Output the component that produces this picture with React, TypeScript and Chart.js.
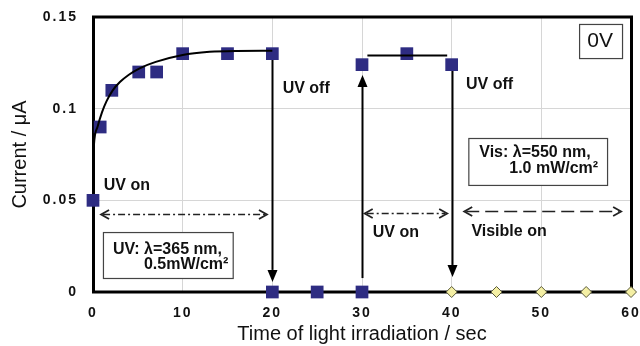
import React, { useEffect, useRef } from 'react';
import { Chart, registerables } from 'chart.js';

Chart.register(...registerables);

// ---- data ----
const uvX = [0, 0.8, 2.1, 5.1, 7.1, 10, 15, 20, 20, 25, 30, 30, 35, 40];
const uvY = [0.05, 0.09, 0.11, 0.12, 0.12, 0.13, 0.13, 0.13, 0, 0, 0, 0.124, 0.13, 0.124];
const visX = [40, 45, 50, 55, 60];
const visY = [0, 0, 0, 0, 0];
const fit1X = [0, 0.1, 0.5, 1, 1.5, 2.2, 3, 4, 5.2, 7, 10, 13, 16, 20];
const fit1Y = [0.066, 0.08, 0.09, 0.098, 0.104, 0.11, 0.1145, 0.1185, 0.122, 0.1255, 0.1293, 0.131, 0.1315, 0.1316];
const fit2X = [30.6, 39.5];
const fit2Y = [0.129, 0.129];
const xTicks = [0, 10, 20, 30, 40, 50, 60];
const yTicks = [0, 0.05, 0.1, 0.15];

// ---- annotations (data coordinates) ----
const vArrows = [
  { x: 20, from: 0.13, to: 0.0055 },
  { x: 30, from: 0.0076, to: 0.1184 },
  { x: 40, from: 0.124, to: 0.0082 },
];
const hArrows = [
  { x1: 0.9, x2: 19.4, y: 0.0425, dash: [7, 3, 2, 3] },
  { x1: 30.3, x2: 39.5, y: 0.043, dash: [7, 3, 2, 3] },
  { x1: 41.4, x2: 58.9, y: 0.044, dash: [13, 6] },
];
const labels = [
  { text: 'UV on', x: 1.2, y: 0.0578 },
  { text: 'UV off', x: 21.15, y: 0.111 },
  { text: 'UV off', x: 41.6, y: 0.1129 },
  { text: 'UV on', x: 31.2, y: 0.0322 },
  { text: 'Visible on', x: 42.2, y: 0.0327 },
];
const boxes = [
  {
    x1: 1.11, x2: 15.58, y1: 0.0327, y2: 0.00764,
    lines: [
      { text: 'UV: λ=365 nm,', x: 2.23, y: 0.0229 },
      { text: '0.5mW/cm²', x: 5.68, y: 0.0147 },
    ],
  },
  {
    x1: 41.86, x2: 57.33, y1: 0.084, y2: 0.0584,
    lines: [
      { text: 'Vis: λ=550 nm,', x: 43.08, y: 0.0758 },
      { text: '1.0 mW/cm²', x: 46.42, y: 0.0671 },
    ],
  },
];
const vBox = { x1: 54.21, x2: 59.0, y1: 0.1462, y2: 0.1276, text: '0V', x: 56.55, y: 0.1369 };

const FONT = '"Liberation Sans", Arial, sans-serif';

const annotPlugin = {
  id: 'annot',
  beforeDatasetsDraw(chart: any) {
    const { ctx, chartArea: a } = chart;
    const xs = chart.scales.x;
    const ys = chart.scales.y;
    const px = (v: number) => xs.getPixelForValue(v);
    const py = (v: number) => ys.getPixelForValue(v);
    ctx.save();
    // frame
    ctx.lineWidth = 3;
    ctx.strokeStyle = '#000';
    ctx.strokeRect(a.left + 0.5, a.top, a.right - a.left, a.bottom - a.top);

    // boxes
    ctx.textBaseline = 'middle';
    ctx.textAlign = 'left';
    ctx.fillStyle = '#111';
    for (const b of boxes) {
      const l = px(b.x1), r = px(b.x2), t = py(b.y1), bt = py(b.y2);
      ctx.fillStyle = '#fff';
      ctx.fillRect(l, t, r - l, bt - t);
      ctx.lineWidth = 1.2;
      ctx.strokeStyle = '#444';
      ctx.strokeRect(l + 0.5, t + 0.5, r - l, bt - t);
      ctx.fillStyle = '#111';
      ctx.font = 'bold 16px ' + FONT;
      for (const ln of b.lines) ctx.fillText(ln.text, px(ln.x), py(ln.y));
    }
    {
      const l = px(vBox.x1), r = px(vBox.x2), t = py(vBox.y1), bt = py(vBox.y2);
      ctx.fillStyle = '#fff';
      ctx.fillRect(l, t, r - l, bt - t);
      ctx.lineWidth = 1.2;
      ctx.strokeStyle = '#444';
      ctx.strokeRect(l + 0.5, t + 0.5, r - l, bt - t);
      ctx.fillStyle = '#111';
      ctx.font = '21px ' + FONT;
      ctx.textAlign = 'center';
      ctx.fillText(vBox.text, px(vBox.x), py(vBox.y));
      ctx.textAlign = 'left';
    }

    // labels
    ctx.font = 'bold 16px ' + FONT;
    ctx.fillStyle = '#111';
    for (const lb of labels) ctx.fillText(lb.text, px(lb.x), py(lb.y));

    // vertical arrows
    ctx.strokeStyle = '#000';
    ctx.fillStyle = '#000';
    for (const va of vArrows) {
      const x = Math.round(px(va.x)) + 0.5;
      const y0 = py(va.from), y1 = py(va.to);
      const dir = y1 > y0 ? 1 : -1;
      const hl = 12, hw = 5;
      ctx.lineWidth = 2;
      ctx.beginPath();
      ctx.moveTo(x, y0);
      ctx.lineTo(x, y1 - dir * hl);
      ctx.stroke();
      ctx.beginPath();
      ctx.moveTo(x, y1);
      ctx.lineTo(x - hw, y1 - dir * hl);
      ctx.lineTo(x + hw, y1 - dir * hl);
      ctx.closePath();
      ctx.fill();
    }

    // horizontal double arrows
    ctx.strokeStyle = '#222';
    for (const ha of hArrows) {
      const x1 = px(ha.x1), x2 = px(ha.x2), y = Math.round(py(ha.y)) + 0.5;
      ctx.lineWidth = 1.5;
      ctx.setLineDash(ha.dash);
      ctx.beginPath();
      ctx.moveTo(x1 + 2, y);
      ctx.lineTo(x2 - 2, y);
      ctx.stroke();
      ctx.setLineDash([]);
      ctx.lineWidth = 1.8;
      ctx.beginPath();
      ctx.moveTo(x1 + 8, y - 4.5);
      ctx.lineTo(x1, y);
      ctx.lineTo(x1 + 8, y + 4.5);
      ctx.moveTo(x2 - 8, y - 4.5);
      ctx.lineTo(x2, y);
      ctx.lineTo(x2 - 8, y + 4.5);
      ctx.stroke();
    }
    ctx.restore();
  },
  afterDatasetsDraw(chart: any) {
    chart.ctx.letterSpacing = '2px';
  },
  afterDraw(chart: any) {
    chart.ctx.letterSpacing = '0px';
  },
};

export default function App() {
  const ref = useRef<HTMLCanvasElement | null>(null);
  useEffect(() => {
    document.body.style.margin = '0';
    const canvas = ref.current;
    if (!canvas) return;
    const toXY = (xs: number[], ys: number[]) => xs.map((x, i) => ({ x, y: ys[i] }));
    const chart = new Chart(canvas, {
      type: 'scatter',
      data: {
        datasets: [
          {
            label: 'fit1',
            data: toXY(fit1X, fit1Y),
            showLine: true,
            borderColor: '#000',
            borderWidth: 2,
            pointRadius: 0,
            cubicInterpolationMode: 'monotone',
            clip: false,
          } as any,
          {
            label: 'fit2',
            data: toXY(fit2X, fit2Y),
            showLine: true,
            borderColor: '#000',
            borderWidth: 2,
            pointRadius: 0,
            clip: false,
          } as any,
          {
            label: 'UV',
            data: toXY(uvX, uvY),
            pointStyle: 'rect',
            pointRadius: 9,
            pointBackgroundColor: '#2e2c82',
            pointBorderColor: '#2e2c82',
            pointBorderWidth: 0,
            clip: false,
          } as any,
          {
            label: 'Vis',
            data: toXY(visX, visY),
            pointStyle: 'rectRot',
            pointRadius: 5.5,
            pointBackgroundColor: '#f4efa4',
            pointBorderColor: '#5a5a3a',
            pointBorderWidth: 1,
            clip: false,
          } as any,
        ],
      },
      options: {
        responsive: false,
        animation: false,
        devicePixelRatio: 1,
        layout: { padding: { top: 17, right: 8, left: 0, bottom: 0 } },
        plugins: {
          legend: { display: false },
          tooltip: { enabled: false },
        },
        scales: {
          x: {
            type: 'linear',
            min: 0,
            max: 60,
            afterFit: (s: any) => { s.height = 54; s.paddingLeft = 0; s.paddingRight = 0; },
            afterBuildTicks: (s: any) => { s.ticks = xTicks.map((v) => ({ value: v })); },
            ticks: {
              z: 1,
              padding: 13,
              color: '#111',
              font: { family: FONT, size: 14, weight: 'bold' },
              callback: (v: any) => String(v),
            },
            grid: { color: '#d6d6d6', lineWidth: 1, drawTicks: false },
            border: { display: false },
            title: {
              display: true,
              text: 'Time of light irradiation / sec',
              color: '#111',
              font: { family: FONT, size: 20 },
              padding: { top: 0, bottom: 0 },
            },
          },
          y: {
            type: 'linear',
            min: 0,
            max: 0.15,
            afterFit: (s: any) => { s.width = 93; s.paddingTop = 0; s.paddingBottom = 0; },
            afterBuildTicks: (s: any) => { s.ticks = yTicks.map((v) => ({ value: v })); },
            ticks: {
              z: 1,
              padding: 15,
              color: '#111',
              font: { family: FONT, size: 14, weight: 'bold' },
              callback: (v: any) => String(Number(Number(v).toFixed(2))),
            },
            grid: { color: '#d6d6d6', lineWidth: 1, drawTicks: false },
            border: { display: false },
            title: {
              display: true,
              text: 'Current / μA',
              color: '#111',
              font: { family: FONT, size: 20 },
              padding: { top: 8, bottom: 0 },
            },
          },
        },
      } as any,
      plugins: [annotPlugin],
    });
    return () => chart.destroy();
  }, []);
  return (
    <div style={{ width: 640, height: 346 }}>
      <canvas ref={ref} width={640} height={346} />
    </div>
  );
}
